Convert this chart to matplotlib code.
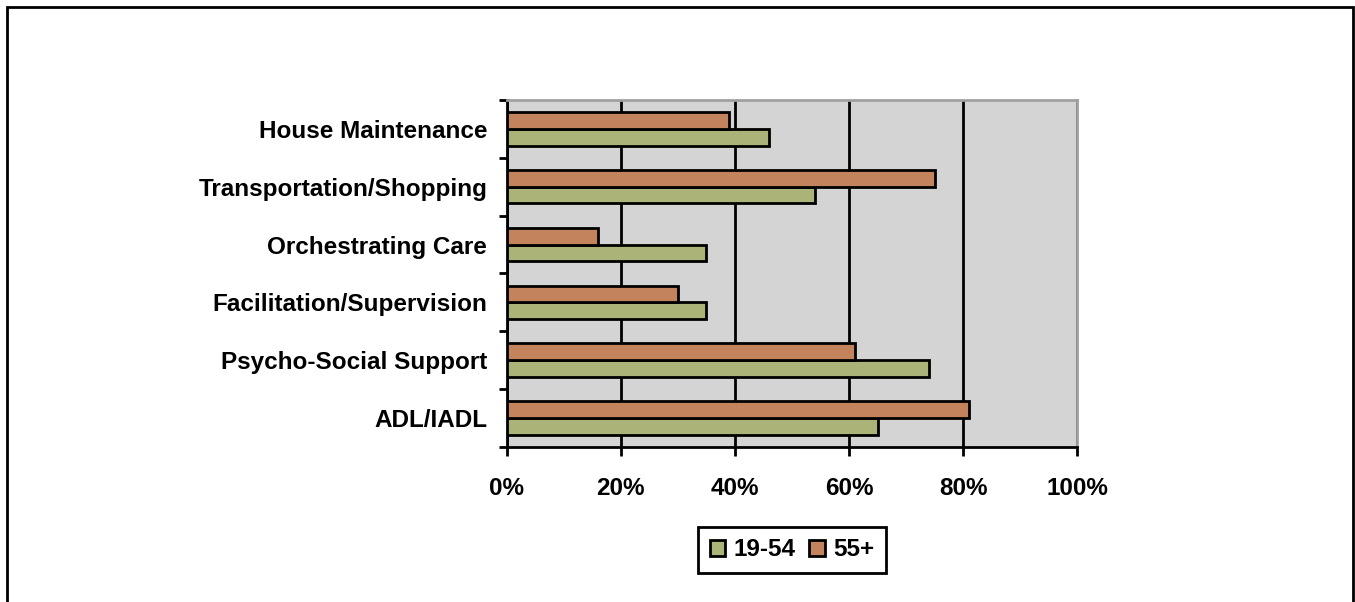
import matplotlib.pyplot as plt
import numpy as np
from matplotlib.patches import Rectangle

categories = ["ADL/IADL", "Psycho-Social Support", "Facilitation/Supervision",
              "Orchestrating Care", "Transportation/Shopping", "House Maintenance"]
young = [65, 74, 35, 35, 54, 46]   # 19-54
older = [81, 61, 30, 16, 75, 39]   # 55+
x_ticks = [0, 20, 40, 60, 80, 100]

GREEN = "#ABB378"
ORANGE = "#C3835D"

plt.rcParams["font.family"] = ["Liberation Sans", "DejaVu Sans"]

fig = plt.figure(figsize=(13.55, 6.02), dpi=100)
ax = fig.add_axes([0.374, 0.2575, 0.421, 0.5765])
ax.set_facecolor("#D4D4D4")

y = np.arange(len(categories))
h = 0.29
ax.barh(y - h / 2, young, height=h, color=GREEN, edgecolor="black", linewidth=2,
        label="19-54", zorder=3)
ax.barh(y + h / 2, older, height=h, color=ORANGE, edgecolor="black", linewidth=2,
        label="55+", zorder=3)

ax.set_xlim(0, 100)
ax.set_ylim(-0.5, len(categories) - 0.5)
ax.set_xticks(x_ticks)
ax.set_xticklabels([f"{t}%" for t in x_ticks], fontsize=17.5, fontweight="bold")
ax.set_yticks(y)
ax.set_yticklabels(categories, fontsize=17.5, fontweight="bold")
ax.set_yticks(np.arange(len(categories) + 1) - 0.5, minor=True)
ax.tick_params(axis="y", which="major", length=0, pad=14)
ax.tick_params(axis="y", which="minor", length=6, width=2, direction="out")
ax.tick_params(axis="x", which="major", length=6.5, width=2, direction="out", pad=15)
ax.xaxis.grid(True, color="black", linewidth=2, zorder=1)
ax.set_axisbelow(True)

for side in ("top", "right"):
    ax.spines[side].set_color("#A0A0A0")
    ax.spines[side].set_linewidth(2)
for side in ("left", "bottom"):
    ax.spines[side].set_color("black")
    ax.spines[side].set_linewidth(2)

leg = fig.legend(loc="center", bbox_to_anchor=(0.5845, 0.0864), ncol=2,
                 frameon=True, fancybox=False, edgecolor="black", framealpha=1,
                 prop={"size": 17.5, "weight": "bold"},
                 handlelength=0.65, handleheight=0.65, handletextpad=0.33,
                 columnspacing=0.58, borderpad=0.47)
leg.get_frame().set_linewidth(2)

# outer chart border (bottom edge falls off the picture, as in the source)
fig.patches.append(Rectangle((0.0055, -0.02), 0.993, 1.008, transform=fig.transFigure,
                             fill=False, edgecolor="black", linewidth=2))

fig.savefig("out.png", dpi=100)
